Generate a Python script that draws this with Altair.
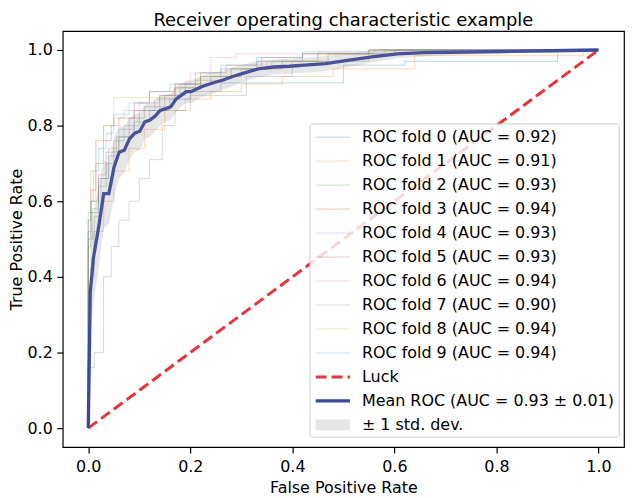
import altair as alt
import pandas as pd

FONT = "DejaVu Sans"

# ---------------- data ----------------
title_text = "Receiver operating characteristic example"
fold_aucs = ["0.92", "0.91", "0.93", "0.94", "0.93", "0.93", "0.94", "0.90", "0.94", "0.94"]
fold_colors = ["#1f77b4", "#ff7f0e", "#2ca02c", "#d62728", "#9467bd",
               "#8c564b", "#e377c2", "#7f7f7f", "#bcbd22", "#17becf"]

# step curves (step-before): each point = end of a horizontal run at that TPR
fold_fpr = [
    [0, 0.005, 0.02, 0.04, 0.06, 0.09, 0.12, 0.16, 0.20, 0.26, 0.30, 0.50, 0.62, 0.92, 1.0],
    [0, 0.01, 0.03, 0.05, 0.08, 0.11, 0.15, 0.19, 0.24, 0.30, 0.38, 0.48, 0.64, 0.97, 1.0],
    [0, 0.008, 0.02, 0.035, 0.05, 0.07, 0.10, 0.14, 0.18, 0.22, 0.28, 0.36, 0.45, 0.58, 1.0],
    [0, 0.005, 0.015, 0.03, 0.045, 0.06, 0.09, 0.12, 0.17, 0.22, 0.27, 0.34, 0.42, 0.55, 1.0],
    [0, 0.004, 0.012, 0.025, 0.04, 0.06, 0.09, 0.13, 0.17, 0.21, 0.26, 0.33, 0.42, 0.56, 1.0],
    [0, 0.006, 0.02, 0.035, 0.055, 0.08, 0.11, 0.15, 0.19, 0.24, 0.30, 0.38, 0.47, 0.60, 1.0],
    [0, 0.005, 0.015, 0.03, 0.05, 0.07, 0.10, 0.14, 0.17, 0.20, 0.24, 0.29, 0.45, 0.62, 1.0],
    [0, 0.012, 0.03, 0.045, 0.06, 0.08, 0.10, 0.12, 0.145, 0.17, 0.20, 0.31, 0.40, 0.55, 1.0],
    [0, 0.005, 0.015, 0.03, 0.05, 0.17, 0.22, 0.28, 0.35, 0.45, 0.55, 1.0],
    [0, 0.004, 0.01, 0.02, 0.035, 0.05, 0.08, 0.12, 0.16, 0.21, 0.26, 0.33, 0.42, 0.55, 1.0],
]
fold_tpr = [
    [0, 0.48, 0.57, 0.66, 0.72, 0.77, 0.81, 0.84, 0.87, 0.89, 0.913, 0.913, 0.96, 0.97, 1.0],
    [0, 0.42, 0.52, 0.60, 0.68, 0.74, 0.79, 0.84, 0.87, 0.89, 0.91, 0.93, 0.95, 0.985, 1.0],
    [0, 0.50, 0.58, 0.64, 0.70, 0.76, 0.80, 0.84, 0.88, 0.90, 0.93, 0.95, 0.97, 0.99, 1.0],
    [0, 0.55, 0.63, 0.70, 0.76, 0.80, 0.82, 0.86, 0.89, 0.91, 0.94, 0.96, 0.98, 0.99, 1.0],
    [0, 0.17, 0.40, 0.56, 0.66, 0.74, 0.79, 0.84, 0.87, 0.90, 0.92, 0.95, 0.97, 0.99, 1.0],
    [0, 0.52, 0.60, 0.67, 0.73, 0.77, 0.82, 0.85, 0.88, 0.91, 0.93, 0.95, 0.97, 0.99, 1.0],
    [0, 0.50, 0.60, 0.76, 0.80, 0.82, 0.84, 0.86, 0.88, 0.91, 0.937, 0.98, 0.99, 0.995, 1.0],
    [0, 0.16, 0.20, 0.40, 0.48, 0.55, 0.60, 0.66, 0.71, 0.80, 0.84, 0.88, 0.93, 0.97, 1.0],
    [0, 0.55, 0.68, 0.76, 0.80, 0.874, 0.90, 0.93, 0.95, 0.97, 0.99, 1.0],
    [0, 0.57, 0.60, 0.68, 0.74, 0.78, 0.83, 0.86, 0.89, 0.91, 0.94, 0.96, 0.98, 0.995, 1.0],
]

mean_fpr = [0, 0.004, 0.0101, 0.0202, 0.0303, 0.0404, 0.0505, 0.0606, 0.0707, 0.0808, 0.0909,
            0.101, 0.111, 0.121, 0.131, 0.141, 0.152, 0.162, 0.172, 0.182, 0.192, 0.202,
            0.222, 0.242, 0.263, 0.283, 0.303, 0.333, 0.364, 0.394, 0.424, 0.465, 0.505,
            0.556, 0.606, 0.657, 0.707, 0.808, 0.909, 1.0]
mean_tpr = [0, 0.36, 0.45, 0.53, 0.62, 0.62, 0.69, 0.73, 0.735, 0.765, 0.78,
            0.785, 0.81, 0.815, 0.825, 0.84, 0.845, 0.85, 0.87, 0.88, 0.89, 0.89,
            0.903, 0.912, 0.92, 0.93, 0.938, 0.95, 0.955, 0.957, 0.96, 0.964, 0.972,
            0.982, 0.99, 0.993, 0.994, 0.996, 0.998, 1.0]
std_tpr = [0, 0.12, 0.12, 0.11, 0.09, 0.08, 0.08, 0.07, 0.06, 0.055, 0.05,
           0.05, 0.045, 0.045, 0.04, 0.04, 0.035, 0.035, 0.035, 0.03, 0.03, 0.03,
           0.028, 0.028, 0.025, 0.025, 0.022, 0.022, 0.02, 0.02, 0.02, 0.02, 0.018,
           0.015, 0.012, 0.01, 0.008, 0.006, 0.004, 0]

luck_fpr = [0, 1]
luck_tpr = [0, 1]

fold_labels = [f"ROC fold {i} (AUC = {a})" for i, a in enumerate(fold_aucs)]
luck_label = "Luck"
mean_label = "Mean ROC (AUC = 0.93 \u00b1 0.01)"
std_label = "\u00b1 1 std. dev."

# ---------------- tables ----------------
rows = []
for lab, xs_, ys_ in zip(fold_labels, fold_fpr, fold_tpr):
    for k, (a, b) in enumerate(zip(xs_, ys_)):
        rows.append({"fold": lab, "order": k, "fpr": a, "tpr": b})
folds_df = pd.DataFrame(rows)

mean_df = pd.DataFrame({
    "fpr": mean_fpr,
    "tpr": mean_tpr,
    "lo": [max(m - s, 0) for m, s in zip(mean_tpr, std_tpr)],
    "hi": [min(m + s, 1) for m, s in zip(mean_tpr, std_tpr)],
})
luck_df = pd.DataFrame({"fpr": luck_fpr, "tpr": luck_tpr})

# ---------------- layout ----------------
W, H = 564, 418
XD = [-0.05, 1.05]
YD = [-0.05, 1.05]
FS = 16


def px2x(p):
    return XD[0] + p * (XD[1] - XD[0]) / W


def py2y(p):
    return YD[1] - p * (YD[1] - YD[0]) / H


ROW0, ROWSTEP = 106.6, 24.1
LINE_X0, LINE_X1, TEXT_X = 254.2, 288.7, 300.7

leg_rows = []
all_labels = fold_labels + [luck_label, mean_label, std_label]
for i, lab in enumerate(all_labels):
    py = ROW0 + ROWSTEP * i
    leg_rows.append({
        "label": lab, "kind": ("fold" if i < 10 else lab),
        "x0": px2x(LINE_X0), "x1": px2x(LINE_X1), "tx": px2x(TEXT_X),
        "y": py2y(py), "ya": py2y(py - 5.5), "yb": py2y(py + 5.5),
    })
leg_df = pd.DataFrame(leg_rows)
box_df = pd.DataFrame([{
    "x0": px2x(248.4), "x1": px2x(559.2), "y0": py2y(93.3), "y1": py2y(408.0)
}])
title_df = pd.DataFrame([{"t": title_text}])

xs = alt.Scale(domain=XD, nice=False, zero=False)
ys = alt.Scale(domain=YD, nice=False, zero=False)

axis_common = dict(
    grid=False, domain=False, ticks=True, tickSize=6, tickWidth=1.2, tickColor="#000",
    labelFont=FONT, labelFontSize=FS, labelColor="#000", labelFlush=False,
    titleFont=FONT, titleFontSize=FS, titleFontWeight="normal", titleColor="#000",
    format=".1f", values=[0, 0.2, 0.4, 0.6, 0.8, 1.0],
)
x_axis = alt.Axis(title="False Positive Rate", labelPadding=6, titlePadding=5, **axis_common)
y_axis = alt.Axis(title="True Positive Rate", labelPadding=4.5, titlePadding=2, **axis_common)

X = alt.X("fpr:Q", scale=xs, axis=x_axis)
Y = alt.Y("tpr:Q", scale=ys, axis=y_axis)
color_scale = alt.Scale(domain=fold_labels, range=fold_colors)

folds = alt.Chart(folds_df).mark_line(
    interpolate="step-before", strokeWidth=1, opacity=0.3
).encode(
    x=X, y=Y,
    color=alt.Color("fold:N", scale=color_scale, legend=None),
    order="order:Q",
)

luck = alt.Chart(luck_df).mark_line(
    strokeDash=[11, 5], strokeWidth=3, color="#e5343b"
).encode(x=X, y=Y)

mean = alt.Chart(mean_df).mark_line(
    strokeWidth=3.3, color="#3a479e"
).encode(x=X, y=Y)

band = alt.Chart(mean_df).mark_area(
    color="#808080", opacity=0.2
).encode(x=X, y=alt.Y("lo:Q", scale=ys, axis=y_axis), y2="hi:Q")

# ---------------- legend ----------------
box = alt.Chart(box_df).mark_rect(
    fill="white", fillOpacity=0.8, stroke="#cccccc", strokeWidth=1, cornerRadius=3
).encode(
    x=alt.X("x0:Q", scale=xs, axis=x_axis), x2="x1:Q",
    y=alt.Y("y0:Q", scale=ys, axis=y_axis), y2="y1:Q",
)

leg_folds = alt.Chart(leg_df).transform_filter(
    alt.datum.kind == "fold"
).mark_rule(strokeWidth=1, opacity=0.3).encode(
    x=alt.X("x0:Q", scale=xs, axis=x_axis), x2="x1:Q",
    y=alt.Y("y:Q", scale=ys, axis=y_axis),
    color=alt.Color("label:N", scale=color_scale, legend=None),
)
leg_luck = alt.Chart(leg_df).transform_filter(
    alt.datum.kind == luck_label
).mark_rule(strokeWidth=3, strokeDash=[11, 5], color="#e5343b").encode(
    x=alt.X("x0:Q", scale=xs, axis=x_axis), x2="x1:Q",
    y=alt.Y("y:Q", scale=ys, axis=y_axis),
)
leg_mean = alt.Chart(leg_df).transform_filter(
    alt.datum.kind == mean_label
).mark_rule(strokeWidth=3.3, color="#3a479e").encode(
    x=alt.X("x0:Q", scale=xs, axis=x_axis), x2="x1:Q",
    y=alt.Y("y:Q", scale=ys, axis=y_axis),
)
leg_std = alt.Chart(leg_df).transform_filter(
    alt.datum.kind == std_label
).mark_rect(color="#808080", opacity=0.2).encode(
    x=alt.X("x0:Q", scale=xs, axis=x_axis), x2="x1:Q",
    y=alt.Y("ya:Q", scale=ys, axis=y_axis), y2="yb:Q",
)
leg_text = alt.Chart(leg_df).mark_text(
    align="left", baseline="middle", font=FONT, fontSize=FS, color="#000"
).encode(
    x=alt.X("tx:Q", scale=xs, axis=x_axis),
    y=alt.Y("y:Q", scale=ys, axis=y_axis),
    text="label:N",
)

# chart title (placed above the plot frame)
title = alt.Chart(title_df).mark_text(
    align="center", baseline="alphabetic", font=FONT, fontSize=18, color="#000"
).encode(
    x=alt.value(W / 2), y=alt.value(-5), text="t:N"
)

chart = alt.layer(
    folds, luck, mean, band, box, leg_folds, leg_luck, leg_mean, leg_std, leg_text, title
).properties(
    width=W, height=H,
    padding={"left": 55, "top": 22, "right": 1, "bottom": 50},
    autosize=alt.AutoSizeParams(type="none"),
).configure_view(
    stroke="#000", strokeWidth=1.2
)

chart.save("out.html", embed_options={"renderer": "svg", "actions": False})
